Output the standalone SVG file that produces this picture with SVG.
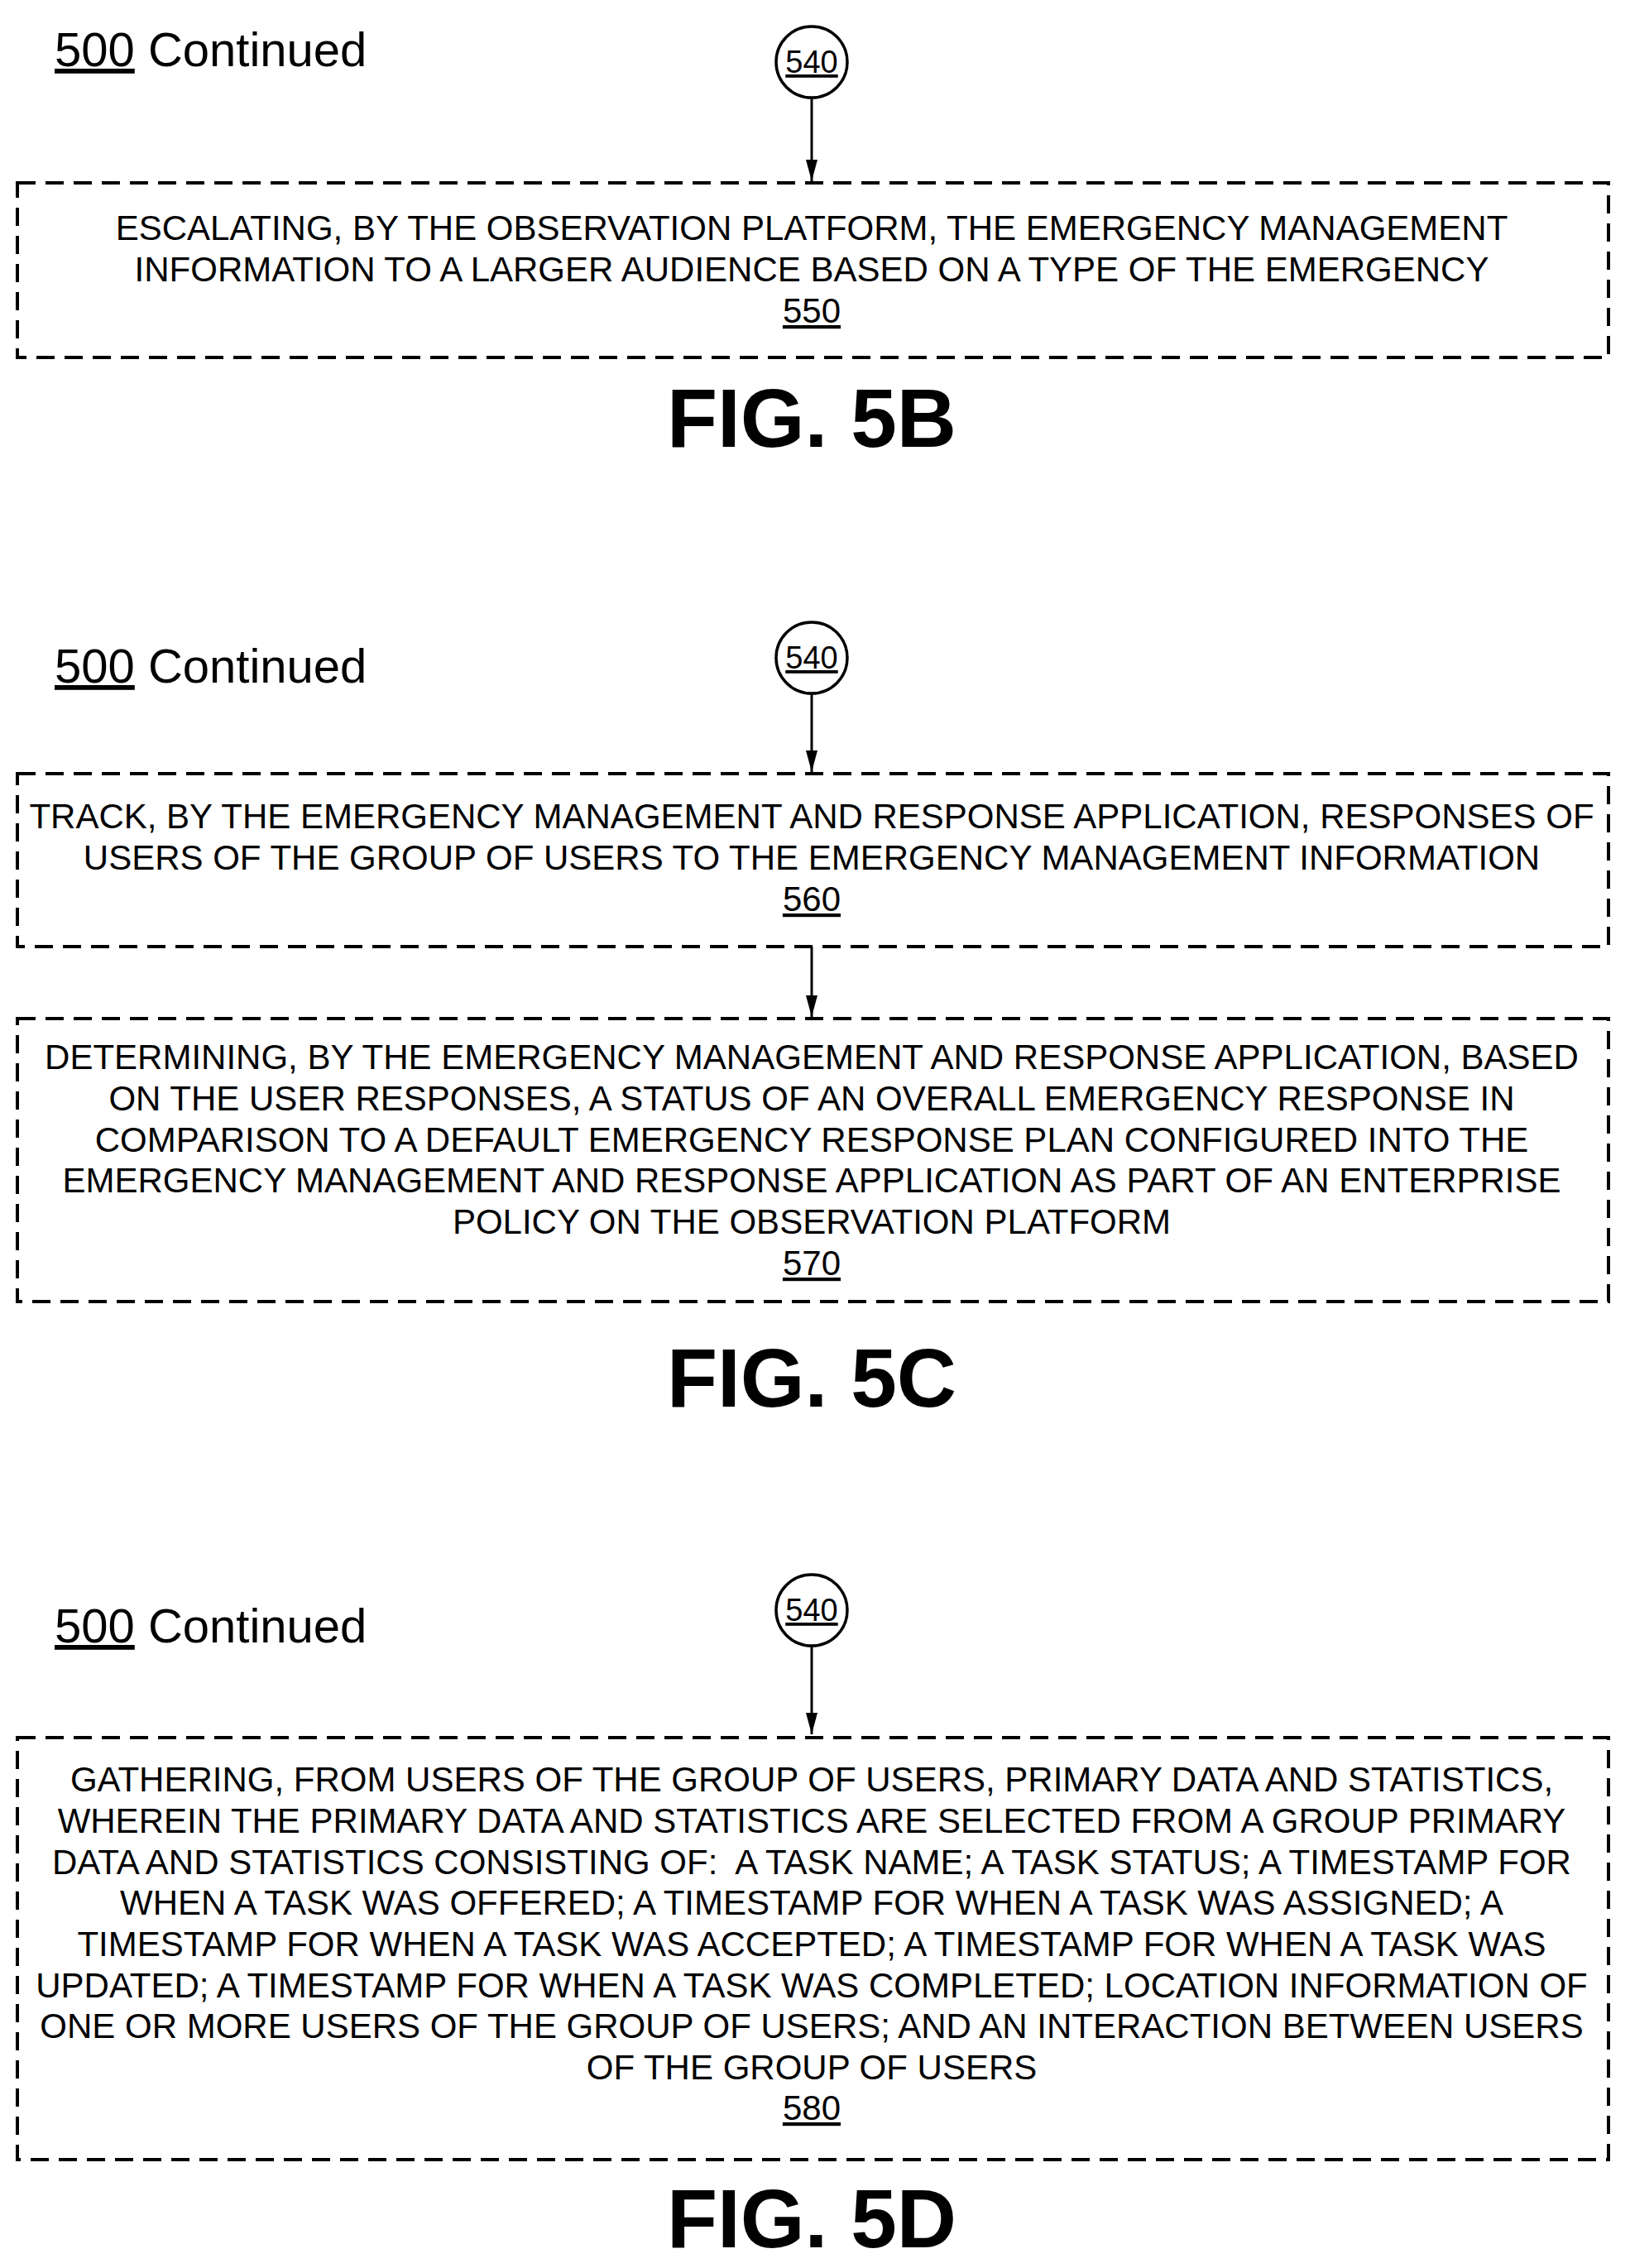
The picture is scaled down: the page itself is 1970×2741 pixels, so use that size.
<svg xmlns="http://www.w3.org/2000/svg" width="1970" height="2741" viewBox="0 0 1970 2741">
<style>
text{font-family:"Liberation Sans",Arial,sans-serif;fill:#000}
.t{font-size:42px;text-anchor:middle}
.h{font-size:58px}
.c{font-size:38px;text-anchor:middle}
.f{font-size:100px;font-weight:bold;text-anchor:middle}
.u{text-decoration:underline}
.box{fill:none;stroke:#000;stroke-width:4;stroke-dasharray:22,12}
.circ{fill:#fff;stroke:#000;stroke-width:3.5}
.ln{stroke:#000;stroke-width:3;fill:none;marker-end:url(#a)}
</style>
<defs><marker id="a" markerWidth="26" markerHeight="14" refX="26" refY="7" orient="auto" markerUnits="userSpaceOnUse" viewBox="0 0 26 14"><path d="M0,0 L26,7 L0,14 Z"/></marker></defs>
<g id="connectors">
<line class="ln" x1="981" y1="119" x2="981" y2="219"/>
<line class="ln" x1="981" y1="839" x2="981" y2="933"/>
<line class="ln" x1="981" y1="1144" x2="981" y2="1229"/>
<line class="ln" x1="981" y1="1990" x2="981" y2="2096"/>
</g>
<g id="hdrB"><text class="h" x="66" y="80"><tspan class="u">500</tspan> Continued</text></g>
<g id="c540b"><circle class="circ" cx="981" cy="75" r="43"/><text class="c u" x="981" y="88">540</text></g>
<g id="n550"><rect class="box" x="21" y="221" width="1923" height="211"/>
<text class="t" x="981" y="290">ESCALATING, BY THE OBSERVATION PLATFORM, THE EMERGENCY MANAGEMENT</text>
<text class="t" x="981" y="340">INFORMATION TO A LARGER AUDIENCE BASED ON A TYPE OF THE EMERGENCY</text>
<text class="t u" x="981" y="390">550</text></g>
<g id="figB"><text class="f" x="981" y="540">FIG. 5B</text></g>

<g id="hdrC"><text class="h" x="66" y="825"><tspan class="u">500</tspan> Continued</text></g>
<g id="c540c"><circle class="circ" cx="981" cy="795" r="43"/><text class="c u" x="981" y="808">540</text></g>
<g id="n560"><rect class="box" x="21" y="935" width="1923" height="209"/>
<text class="t" x="981" y="1001">TRACK, BY THE EMERGENCY MANAGEMENT AND RESPONSE APPLICATION, RESPONSES OF</text>
<text class="t" x="981" y="1051">USERS OF THE GROUP OF USERS TO THE EMERGENCY MANAGEMENT INFORMATION</text>
<text class="t u" x="981" y="1101">560</text></g>
<g id="n570"><rect class="box" x="21" y="1231" width="1923" height="342"/>
<text class="t" x="981" y="1292">DETERMINING, BY THE EMERGENCY MANAGEMENT AND RESPONSE APPLICATION, BASED</text>
<text class="t" x="981" y="1342">ON THE USER RESPONSES, A STATUS OF AN OVERALL EMERGENCY RESPONSE IN</text>
<text class="t" x="981" y="1392">COMPARISON TO A DEFAULT EMERGENCY RESPONSE PLAN CONFIGURED INTO THE</text>
<text class="t" x="981" y="1441">EMERGENCY MANAGEMENT AND RESPONSE APPLICATION AS PART OF AN ENTERPRISE</text>
<text class="t" x="981" y="1491">POLICY ON THE OBSERVATION PLATFORM</text>
<text class="t u" x="981" y="1541">570</text></g>
<g id="figC"><text class="f" x="981" y="1700">FIG. 5C</text></g>

<g id="hdrD"><text class="h" x="66" y="1985"><tspan class="u">500</tspan> Continued</text></g>
<g id="c540d"><circle class="circ" cx="981" cy="1946" r="43"/><text class="c u" x="981" y="1959">540</text></g>
<g id="n580"><rect class="box" x="21" y="2100" width="1923" height="510"/>
<text class="t" x="981" y="2165">GATHERING, FROM USERS OF THE GROUP OF USERS, PRIMARY DATA AND STATISTICS,</text>
<text class="t" x="981" y="2215">WHEREIN THE PRIMARY DATA AND STATISTICS ARE SELECTED FROM A GROUP PRIMARY</text>
<text class="t" x="981" y="2265" xml:space="preserve">DATA AND STATISTICS CONSISTING OF:  A TASK NAME; A TASK STATUS; A TIMESTAMP FOR</text>
<text class="t" x="981" y="2314">WHEN A TASK WAS OFFERED; A TIMESTAMP FOR WHEN A TASK WAS ASSIGNED; A</text>
<text class="t" x="981" y="2364">TIMESTAMP FOR WHEN A TASK WAS ACCEPTED; A TIMESTAMP FOR WHEN A TASK WAS</text>
<text class="t" x="981" y="2414">UPDATED; A TIMESTAMP FOR WHEN A TASK WAS COMPLETED; LOCATION INFORMATION OF</text>
<text class="t" x="981" y="2463">ONE OR MORE USERS OF THE GROUP OF USERS; AND AN INTERACTION BETWEEN USERS</text>
<text class="t" x="981" y="2513">OF THE GROUP OF USERS</text>
<text class="t u" x="981" y="2562">580</text></g>
<g id="figD"><text class="f" x="981" y="2716">FIG. 5D</text></g>
</svg>
